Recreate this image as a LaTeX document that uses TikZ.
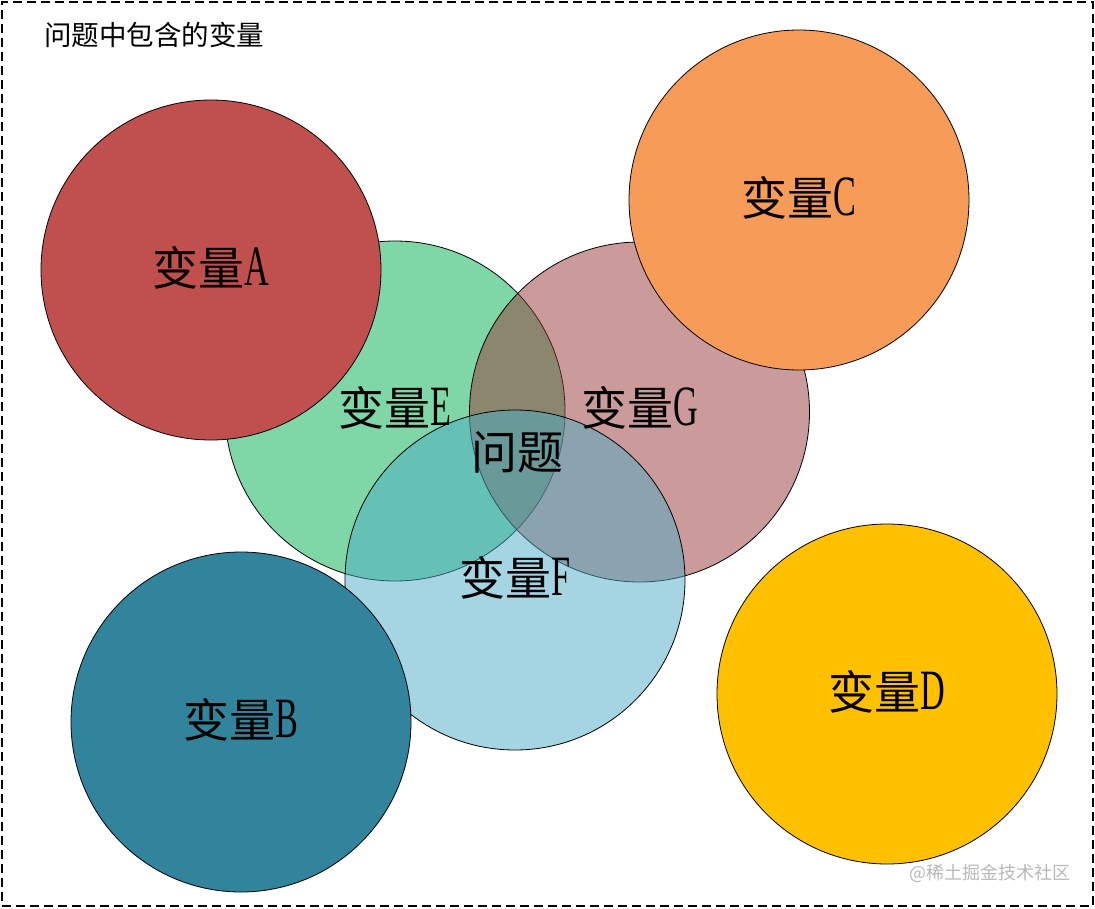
\documentclass[tikz,border=0pt]{standalone}
\usepackage{fontspec}
\setmainfont{Liberation Serif}
\newfontfamily\cjk{Noto Sans CJK SC}
\newfontfamily\latn[FakeStretch=0.6]{Liberation Serif}
\newcommand{\vlbl}[1]{{\fontsize{46}{52}\selectfont\cjk 变量}{\fontsize{57}{60}\selectfont\latn #1}}
\definecolor{cA}{HTML}{C0504D}
\definecolor{cB}{HTML}{31849B}
\definecolor{cC}{HTML}{F69C58}
\definecolor{cD}{HTML}{FFC000}
\definecolor{cE}{HTML}{00B050}
\definecolor{cG}{HTML}{953735}
\definecolor{cF}{HTML}{4BACC6}
\tikzset{
  circ/.style={circle, draw=black, line width=0.8pt, minimum size=340pt, inner sep=0pt},
  seethru/.style={circ, fill opacity=0.5},
  lbl/.style={inner sep=0pt, text=black},
}
\begin{document}
\begin{tikzpicture}[x=1pt,y=-1pt]
\useasboundingbox (0,0) rectangle (1095,908);
\node[draw=black, dash pattern=on 9pt off 5pt, line width=1.3pt, minimum width=1091pt, minimum height=904pt, inner sep=0pt] (frame) at (547.5,454) {};
\node[anchor=west, inner sep=0pt] (title) at (44,35) {\fontsize{27.5}{30}\selectfont\cjk 问题中包含的变量};
% semi-transparent circles
\node[seethru, fill=cE] (E) at (395,411) {};
\node[seethru, fill=cG] (G) at (639.5,412) {};
\node[seethru, fill=cF] (F) at (515,580) {};
% opaque circles
\node[circ, fill=cA] (A) at (211,270) {};
\node[circ, fill=cC] (C) at (799,200) {};
\node[circ, fill=cB] (B) at (241,722) {};
\node[circ, fill=cD] (D) at (887,694) {};
% labels
\node[lbl] (lA) at (211,268) {\vlbl{A}};
\node[lbl] (lE) at (395,408) {\vlbl{E}};
\node[lbl] (lG) at (640,408) {\vlbl{G}};
\node[lbl] (lC) at (799,198) {\vlbl{C}};
\node[lbl] (lF) at (515,578) {\vlbl{F}};
\node[lbl] (lB) at (241,720) {\vlbl{B}};
\node[lbl] (lD) at (887,692) {\vlbl{D}};
\node[lbl] (lQ) at (517,452) {\fontsize{46}{52}\selectfont\cjk 问题};
\node[inner sep=0pt, text=black!28] (wm) at (990,873) {\fontsize{18}{20}\selectfont\cjk @稀土掘金技术社区};
\end{tikzpicture}
\end{document}
